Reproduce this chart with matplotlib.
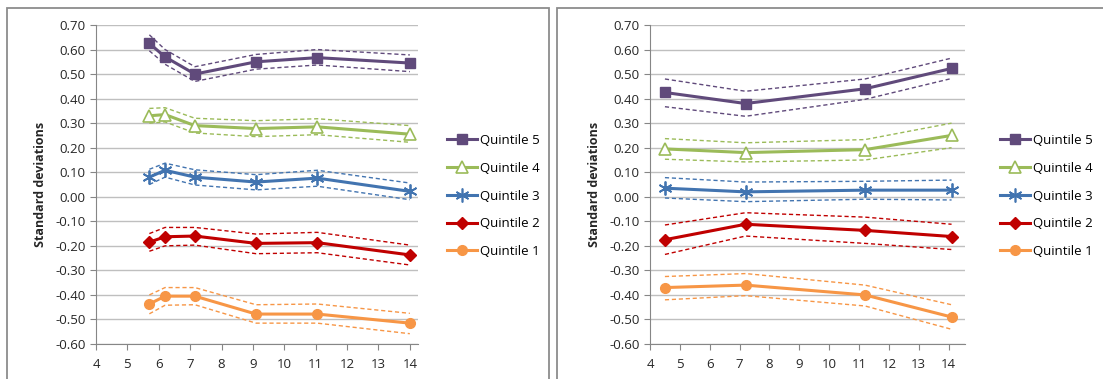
import matplotlib.pyplot as plt
from matplotlib.patches import Rectangle
from matplotlib.lines import Line2D

plt.rcParams['font.family'] = ['Open Sans', 'DejaVu Sans']

# left panel
x_left = [5.7, 6.2, 7.15, 9.1, 11.05, 14.0]
q5_left = [0.625, 0.57, 0.50, 0.55, 0.567, 0.545]
q5_left_hi = [0.66, 0.60, 0.53, 0.58, 0.60, 0.578]
q5_left_lo = [0.595, 0.54, 0.47, 0.52, 0.537, 0.51]
q4_left = [0.33, 0.335, 0.29, 0.278, 0.285, 0.255]
q4_left_hi = [0.36, 0.363, 0.32, 0.31, 0.318, 0.29]
q4_left_lo = [0.30, 0.305, 0.26, 0.245, 0.253, 0.222]
q3_left = [0.08, 0.108, 0.08, 0.06, 0.076, 0.022]
q3_left_hi = [0.112, 0.137, 0.11, 0.09, 0.108, 0.056]
q3_left_lo = [0.05, 0.08, 0.048, 0.028, 0.043, -0.012]
q2_left = [-0.185, -0.163, -0.16, -0.19, -0.187, -0.237]
q2_left_hi = [-0.15, -0.125, -0.125, -0.152, -0.145, -0.197]
q2_left_lo = [-0.222, -0.20, -0.197, -0.232, -0.228, -0.278]
q1_left = [-0.437, -0.405, -0.405, -0.478, -0.478, -0.515]
q1_left_hi = [-0.40, -0.37, -0.37, -0.44, -0.437, -0.475]
q1_left_lo = [-0.477, -0.442, -0.44, -0.515, -0.515, -0.558]

# right panel
x_right = [4.5, 7.2, 11.2, 14.1]
q5_right = [0.425, 0.38, 0.44, 0.523]
q5_right_hi = [0.48, 0.43, 0.48, 0.565]
q5_right_lo = [0.367, 0.328, 0.397, 0.482]
q4_right = [0.195, 0.18, 0.192, 0.25]
q4_right_hi = [0.237, 0.22, 0.233, 0.30]
q4_right_lo = [0.153, 0.142, 0.15, 0.20]
q3_right = [0.035, 0.02, 0.027, 0.027]
q3_right_hi = [0.078, 0.06, 0.063, 0.068]
q3_right_lo = [-0.005, -0.02, -0.01, -0.013]
q2_right = [-0.175, -0.112, -0.137, -0.162]
q2_right_hi = [-0.115, -0.065, -0.083, -0.112]
q2_right_lo = [-0.235, -0.16, -0.19, -0.215]
q1_right = [-0.37, -0.36, -0.40, -0.49]
q1_right_hi = [-0.325, -0.313, -0.36, -0.44]
q1_right_lo = [-0.42, -0.403, -0.445, -0.54]

labels = ['Quintile 5', 'Quintile 4', 'Quintile 3', 'Quintile 2', 'Quintile 1']
colors = ['#604A7B', '#9BBB59', '#4274B0', '#C00000', '#F79646']
markers = ['s', '^', (6, 2, 0), 'D', 'o']
msizes = [7, 8, 10, 6.5, 7]
yticks = [0.70, 0.60, 0.50, 0.40, 0.30, 0.20, 0.10, 0.00, -0.10, -0.20, -0.30, -0.40, -0.50, -0.60]

left_series = [(q5_left, q5_left_hi, q5_left_lo), (q4_left, q4_left_hi, q4_left_lo),
               (q3_left, q3_left_hi, q3_left_lo), (q2_left, q2_left_hi, q2_left_lo),
               (q1_left, q1_left_hi, q1_left_lo)]
right_series = [(q5_right, q5_right_hi, q5_right_lo), (q4_right, q4_right_hi, q4_right_lo),
                (q3_right, q3_right_hi, q3_right_lo), (q2_right, q2_right_hi, q2_right_lo),
                (q1_right, q1_right_hi, q1_right_lo)]

W, H = 1103, 379
fig = plt.figure(figsize=(W / 100, H / 100), dpi=100)

# panel frames
fig.patches.append(Rectangle((7 / W, -0.1), 542 / W, 1.1 - 8 / H, transform=fig.transFigure,
                             fill=False, edgecolor='#8C8C8C', lw=1.3))
fig.patches.append(Rectangle((557 / W, -0.1), 600 / W, 1.1 - 8 / H, transform=fig.transFigure,
                             fill=False, edgecolor='#8C8C8C', lw=1.3))


def draw(ax, xs, series, xmax, legend_x):
    handles = []
    for (mid, hi, lo), c, m, ms, lab in zip(series, colors, markers, msizes, labels):
        ax.plot(xs, hi, color=c, lw=1.0, ls=(0, (3, 2)), zorder=2)
        ax.plot(xs, lo, color=c, lw=1.0, ls=(0, (3, 2)), zorder=2)
        if m == '^':
            ax.plot(xs, mid, color=c, lw=2.2, marker=m, ms=ms, mfc='white', mec=c, mew=1.2, zorder=3)
        elif m == (6, 2, 0):
            ax.plot(xs, mid, color=c, lw=2.2, marker=m, ms=ms, mec=c, mew=1.3, zorder=3)
        else:
            ax.plot(xs, mid, color=c, lw=2.2, marker=m, ms=ms, mfc=c, mec=c, zorder=3)
        handles.append(Line2D([], [], color=c, lw=2.2, marker=m, ms=ms,
                              mfc='white' if m == '^' else c, mec=c,
                              mew=1.2 if m in ('^', (6, 2, 0)) else 1.0))
    ax.set_xlim(4, xmax)
    ax.set_ylim(-0.60, 0.70)
    ax.set_xticks(range(4, 15))
    ax.set_yticks(yticks)
    ax.set_yticklabels([f'{v:.2f}' for v in yticks])
    ax.grid(axis='y', color='#BFBFBF', lw=1.0)
    ax.set_axisbelow(True)
    for s in ['top', 'right']:
        ax.spines[s].set_visible(False)
    for s in ['left', 'bottom']:
        ax.spines[s].set_color('#868686')
    ax.tick_params(axis='both', colors='#868686', labelcolor='#262626', labelsize=9.5, length=4)
    ax.tick_params(axis='x', pad=6)
    ax.set_ylabel('Standard deviations', fontsize=9, fontweight='bold', color='#262626', labelpad=6)
    fig.legend(handles, labels, loc='center left', bbox_to_anchor=(legend_x / W, 1 - 196 / H),
               frameon=False, fontsize=9.5, handlelength=2.3, handletextpad=0.2,
               labelspacing=1.12, borderpad=0)


ax1 = fig.add_axes([96 / W, 1 - 344 / H, 322 / W, 319 / H])
draw(ax1, x_left, left_series, 14.26, 440)
ax2 = fig.add_axes([650 / W, 1 - 344 / H, 315 / W, 319 / H])
draw(ax2, x_right, right_series, 14.55, 993)

fig.savefig('out.png', dpi=100)
